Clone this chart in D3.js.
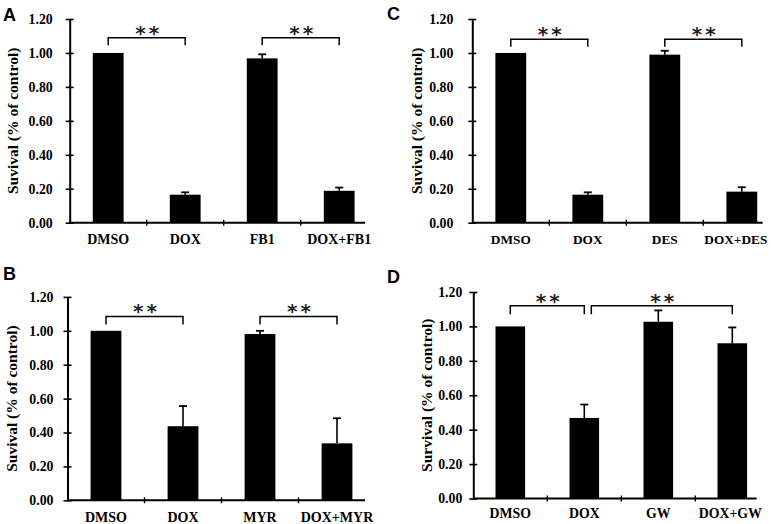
<!DOCTYPE html>
<html><head><meta charset="utf-8">
<script src="https://cdn.jsdelivr.net/npm/d3@7"></script>
<style>
html,body{margin:0;padding:0;background:#fff;}
svg{display:block;}
</style></head>
<body>
<svg id="chart" width="771" height="524"></svg>
<script>
// ---------- DATA ----------
const yTicks = [0.00, 0.20, 0.40, 0.60, 0.80, 1.00, 1.20];

const categoriesA = ["DMSO", "DOX", "FB1", "DOX+FB1"];
const valuesA     = [1.00, 0.165, 0.968, 0.188];
const errorsA     = [0.00, 0.014, 0.024, 0.019];

const categoriesB = ["DMSO", "DOX", "MYR", "DOX+MYR"];
const valuesB     = [1.00, 0.437, 0.981, 0.336];
const errorsB     = [0.00, 0.119, 0.019, 0.148];

const categoriesC = ["DMSO", "DOX", "DES", "DOX+DES"];
const valuesC     = [1.00, 0.165, 0.990, 0.183];
const errorsC     = [0.00, 0.014, 0.023, 0.026];

const categoriesD = ["DMSO", "DOX", "GW", "DOX+GW"];
const valuesD     = [1.00, 0.468, 1.027, 0.902];
const errorsD     = [0.00, 0.078, 0.066, 0.092];

const panelLabels = ["A", "B", "C", "D"];
const yTitles = ["Suvival (% of control)", "Suvival (% of control)", "Suvival (% of control)", "Survival (% of control)"];
const sigLabel = "**";
// significance brackets: [from index, to index]
const bracketsA = [[0, 1], [2, 3]];
const bracketsB = [[0, 1], [2, 3]];
const bracketsC = [[0, 1], [2, 3]];
const bracketsD = [[0, 1], [1, 3]];

// ---------- LAYOUT ----------
const svg = d3.select("#chart");
const serif = "'Liberation Serif','Times New Roman',serif";

const panels = [
  {cats: categoriesA, vals: valuesA, errs: errorsA, br: bracketsA, label: panelLabels[0], title: yTitles[0],
   x0: 69.7, step: 77, axisEnd: 365, yTop: 19, yBot: 222.7, lx: 3, ly: 21, tx: 17.5, labelDy: 21.5,
   brY: 1.09, brDrop: 7.5, gapRight: 0, labelSize: 14, lastShift: 0, tickPad: 13},
  {cats: categoriesB, vals: valuesB, errs: errorsB, br: bracketsB, label: panelLabels[1], title: yTitles[1],
   x0: 67.5, step: 77, axisEnd: 365, yTop: 296.9, yBot: 500.3, lx: 3, ly: 280, tx: 16.5, labelDy: 21.4,
   brY: 1.085, brDrop: 8, gapRight: 0, labelSize: 14, lastShift: 0, tickPad: 10},
  {cats: categoriesC, vals: valuesC, errs: errorsC, br: bracketsC, label: panelLabels[2], title: yTitles[2],
   x0: 472.3, step: 77, axisEnd: 762.7, yTop: 19, yBot: 222.7, lx: 387, ly: 20, tx: 421.5, labelDy: 21.5,
   brY: 1.08, brDrop: 7.5, gapRight: 0, labelSize: 13.3, lastShift: -6, tickPad: 15},
  {cats: categoriesD, vals: valuesD, errs: errorsD, br: bracketsD, label: panelLabels[3], title: yTitles[3],
   x0: 473.3, step: 74, axisEnd: 756.7, yTop: 292, yBot: 498.5, lx: 387, ly: 283, tx: 432, labelDy: 19,
   brY: 1.12, brDrop: 8.5, gapRight: 7, labelSize: 13.8, lastShift: -2, tickPad: 7}
];

panels.forEach(p => {
  const g = svg.append("g");
  const x = d3.scaleBand().domain(p.cats)
    .range([p.x0, p.x0 + p.step * p.cats.length])
    .paddingInner(0.6).paddingOuter(0.3);
  const y = d3.scaleLinear().domain([0, 1.2]).range([p.yBot, p.yTop]);

  // panel letter
  g.append("text").attr("x", p.lx).attr("y", p.ly)
    .attr("font-family", "'Liberation Sans',Arial,sans-serif").attr("font-weight", "bold")
    .attr("font-size", 18).text(p.label);

  // y title
  g.append("text")
    .attr("transform", `translate(${p.tx},${(p.yTop + p.yBot) / 2}) rotate(-90)`)
    .attr("text-anchor", "middle")
    .attr("font-family", serif).attr("font-weight", "bold").attr("font-size", 15.5)
    .text(p.title);

  // bars
  g.selectAll("rect.bar").data(p.cats).join("rect")
    .attr("class", "bar")
    .attr("x", d => x(d)).attr("width", x.bandwidth())
    .attr("y", (d, i) => y(p.vals[i]))
    .attr("height", (d, i) => y(0) - y(p.vals[i]))
    .attr("fill", "#000");

  // error bars (upper only)
  p.cats.forEach((c, i) => {
    if (p.errs[i] <= 0) return;
    const cx = x(c) + x.bandwidth() / 2;
    g.append("line").attr("x1", cx).attr("x2", cx)
      .attr("y1", y(p.vals[i])).attr("y2", y(p.vals[i] + p.errs[i]))
      .attr("stroke", "#000").attr("stroke-width", 1.6);
    g.append("line").attr("x1", cx - 4).attr("x2", cx + 4)
      .attr("y1", y(p.vals[i] + p.errs[i])).attr("y2", y(p.vals[i] + p.errs[i]))
      .attr("stroke", "#000").attr("stroke-width", 1.8);
  });

  // y axis
  const yAxis = d3.axisLeft(y).tickValues(yTicks).tickFormat(d3.format(".2f"))
    .tickSizeInner(4).tickSizeOuter(0).tickPadding(p.tickPad);
  const ya = g.append("g").attr("transform", `translate(${p.x0},0)`).call(yAxis);
  ya.select(".domain").attr("stroke-width", 2);
  ya.selectAll(".tick line").attr("x1", 4).attr("stroke-width", 1.6);
  ya.selectAll(".tick text").attr("font-family", serif).attr("font-weight", "bold")
    .attr("font-size", 13.8).attr("fill", "#000");

  // x axis
  const xAxis = d3.axisBottom(x).tickSize(0).tickPadding(0);
  const xa = g.append("g").attr("transform", `translate(0,${p.yBot})`).call(xAxis);
  xa.select(".domain").remove();
  const n = p.cats.length;
  xa.selectAll(".tick text").attr("font-family", serif).attr("font-weight", "bold")
    .attr("font-size", p.labelSize).attr("fill", "#000")
    .attr("dy", null).attr("y", p.labelDy)
    .attr("x", (d, i) => i === n - 1 ? p.lastShift : 0);
  g.append("line").attr("x1", p.x0).attr("x2", p.axisEnd)
    .attr("y1", p.yBot).attr("y2", p.yBot).attr("stroke", "#000").attr("stroke-width", 2);
  d3.range(1, n).forEach(k => {
    const bx = p.x0 + x.step() * k;
    g.append("line").attr("x1", bx).attr("x2", bx)
      .attr("y1", p.yBot - 3).attr("y2", p.yBot + 3)
      .attr("stroke", "#000").attr("stroke-width", 1.4);
  });

  // significance brackets
  p.br.forEach(([a, b], j) => {
    const xa0 = x(p.cats[a]) + x.bandwidth() / 2 + (j > 0 ? p.gapRight : 0);
    const xb0 = x(p.cats[b]) + x.bandwidth() / 2;
    const yt = y(p.brY);
    g.append("path")
      .attr("d", `M${xa0},${yt + p.brDrop}V${yt}H${xb0}V${yt + p.brDrop}`)
      .attr("fill", "none").attr("stroke", "#000").attr("stroke-width", 1.5);
    g.append("text").attr("x", (xa0 + xb0) / 2 + 2).attr("y", yt + 2)
      .attr("text-anchor", "middle")
      .attr("font-family", "'DejaVu Sans',sans-serif").attr("font-weight", "bold").attr("font-size", 20)
      .attr("letter-spacing", 3).attr("fill", "#222")
      .text(sigLabel);
  });
});
</script>
</body></html>
